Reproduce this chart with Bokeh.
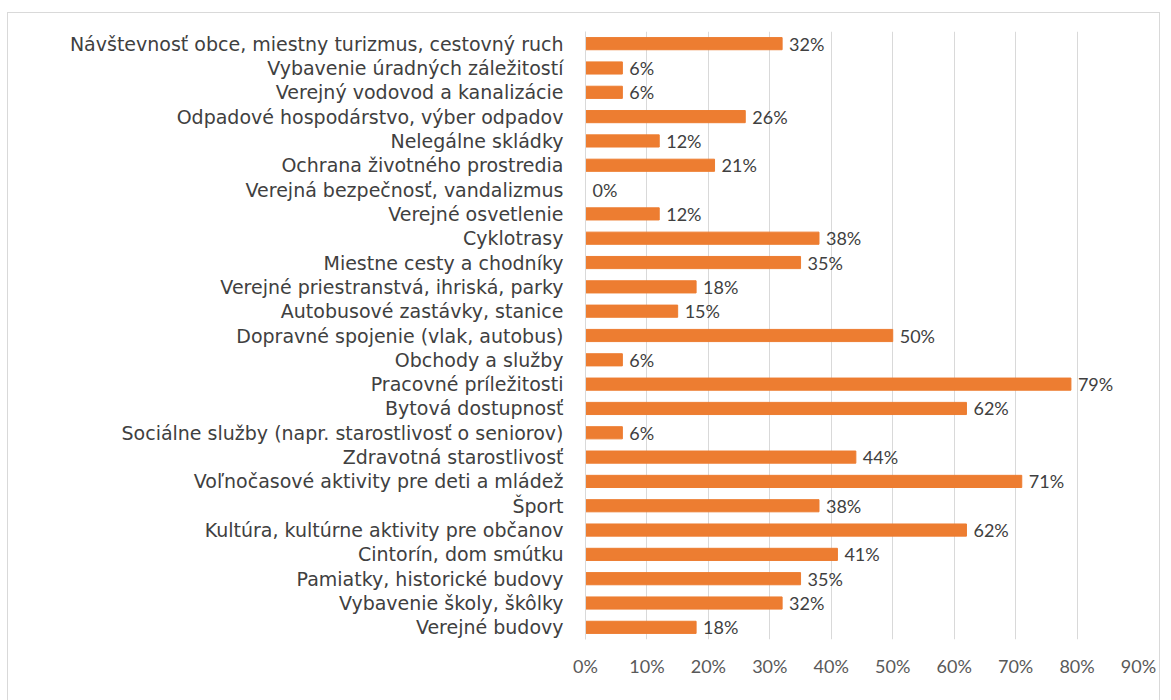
from bokeh.plotting import figure
from bokeh.models import Range1d, FixedTicker, NumeralTickFormatter, ColumnDataSource
from bokeh.embed import file_html
from bokeh.resources import INLINE
from bokeh.core.properties import value

categories = [
    "Návštevnosť obce, miestny turizmus, cestovný ruch",
    "Vybavenie úradných záležitostí",
    "Verejný vodovod a kanalizácie",
    "Odpadové hospodárstvo, výber odpadov",
    "Nelegálne skládky",
    "Ochrana životného prostredia",
    "Verejná bezpečnosť, vandalizmus",
    "Verejné osvetlenie",
    "Cyklotrasy",
    "Miestne cesty a chodníky",
    "Verejné priestranstvá, ihriská, parky",
    "Autobusové zastávky, stanice",
    "Dopravné spojenie (vlak, autobus)",
    "Obchody a služby",
    "Pracovné príležitosti",
    "Bytová dostupnosť",
    "Sociálne služby (napr. starostlivosť o seniorov)",
    "Zdravotná starostlivosť",
    "Voľnočasové aktivity pre deti a mládež",
    "Šport",
    "Kultúra, kultúrne aktivity pre občanov",
    "Cintorín, dom smútku",
    "Pamiatky, historické budovy",
    "Vybavenie školy, škôlky",
    "Verejné budovy",
]
values = [32, 6, 6, 26, 12, 21, 0, 12, 38, 35, 18, 15, 50, 6, 79, 62, 6, 44, 71, 38, 62, 41, 35, 32, 18]
tick_values = [0, 0.1, 0.2, 0.3, 0.4, 0.5, 0.6, 0.7, 0.8, 0.9]

src = ColumnDataSource(dict(
    cat=categories,
    val=[v / 100 for v in values],
    lab=[f"{v}%" for v in values],
))

W, H = 1153, 695
p = figure(
    width=W, height=H,
    y_range=list(reversed(categories)),
    x_range=Range1d(0, 0.9),
    output_backend="svg", toolbar_location=None,
    min_border_left=577, min_border_right=W - 1130, min_border_top=18, min_border_bottom=69,
    margin=(12, 0, 0, 7),
)
p.styles = {"border": "1px solid #d9d9d9"}
p.outline_line_color = None
p.background_fill_color = "white"
p.border_fill_color = "white"

p.hbar(y="cat", right="val", left=0, height=0.5, color="#ED7D31", source=src)
p.text(x="val", y="cat", text="lab", source=src, x_offset=7,
       text_baseline="middle", text_align="left", text_color="#404040",
       text_font=value("Lato"), text_font_size="18px")

xa = p.xaxis[0]
xa.ticker = FixedTicker(ticks=tick_values)
xa.formatter = NumeralTickFormatter(format="0%")
xa.axis_line_color = None
xa.major_tick_line_color = None
xa.minor_tick_line_color = None
xa.major_label_text_color = "#595959"
xa.major_label_text_font = "Lato"
xa.major_label_text_font_size = "18px"
xa.major_label_standoff = 9

ya = p.yaxis[0]
ya.axis_line_color = "#d9d9d9"
ya.major_tick_line_color = None
ya.minor_tick_line_color = None
ya.major_label_text_color = "#404040"
ya.major_label_text_font = "DejaVu Sans"
ya.major_label_text_font_size = "19px"
ya.major_label_standoff = 16

p.xgrid.grid_line_color = "#d9d9d9"
p.ygrid.grid_line_color = None
p.y_range.range_padding = 0

open("out.html", "w").write(file_html(p, INLINE))
